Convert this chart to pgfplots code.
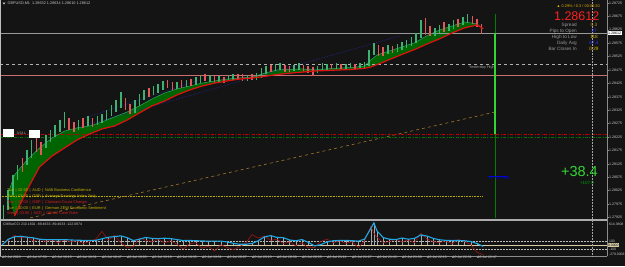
\documentclass[border=0pt]{standalone}
\usepackage{fontspec}
\setmainfont{Liberation Sans}
\usepackage{pgfplots}
\pgfplotsset{compat=1.18}
\usepackage{pgfplotstable}
\usepgfplotslibrary{fillbetween}
\newcommand{\fs}[1]{\fontsize{#1}{#1}\selectfont}
\definecolor{bg}{HTML}{141414}
\definecolor{fillg}{HTML}{006400}
\definecolor{fastc}{HTML}{2FA36B}
\definecolor{slowc}{HTML}{E01010}
\definecolor{upc}{HTML}{3CB371}
\definecolor{dnc}{HTML}{E05A5A}
\definecolor{salmonl}{HTML}{C87070}
\definecolor{pricel}{HTML}{9A9A9A}
\definecolor{axisg}{HTML}{8C8C8C}
\definecolor{lbl}{HTML}{C8C8C8}
\definecolor{infog}{HTML}{9A9A9A}
\definecolor{gold}{HTML}{D9B400}
\definecolor{oliveg}{HTML}{B89A00}
\definecolor{bluev}{HTML}{2A3CFF}
\definecolor{limeg}{HTML}{33D633}
\definecolor{newsy}{HTML}{C8B400}
\definecolor{newsr}{HTML}{D42020}
\definecolor{cciblue}{HTML}{1EA8E6}
\definecolor{ccired}{HTML}{A01414}
\definecolor{beige}{HTML}{D8CCA8}
\definecolor{orgd}{HTML}{A07828}
\definecolor{navyd}{HTML}{2828A0}
\definecolor{yeld}{HTML}{B8A800}
\definecolor{bigred}{HTML}{FF1E1E}
\pagecolor{bg}
% prices are stored as prices; they are plotted in points above 1.28000
\pgfplotsset{/pgfplots/table/pr/.style={y expr=(\thisrow{p}-1.28)*100000}}

\pgfplotstableread{
b p
4 1.28016
8 1.28083
16 1.28139
24 1.28184
32 1.28221
40 1.28247
48 1.28259
56 1.28266
64 1.28281
72 1.28300
80 1.28318
88 1.28341
96 1.28367
104 1.28389
112 1.28404
120 1.28415
128 1.28426
136 1.28434
144 1.28441
152 1.28445
160 1.28448
168 1.28463
176 1.28475
184 1.28477
192 1.28479
200 1.28475
208 1.28479
216 1.28482
224 1.28484
232 1.28490
236 1.28512
240 1.28531
248 1.28546
256 1.28561
264 1.28576
272 1.28603
280 1.28624
288 1.28639
296 1.28654
304 1.28647
308 1.28628
}\fastma

\pgfplotstableread{
b p
8 1.27930
16 1.28027
24 1.28113
32 1.28154
40 1.28184
48 1.28214
56 1.28236
64 1.28255
72 1.28266
80 1.28288
88 1.28315
96 1.28341
104 1.28359
112 1.28382
120 1.28400
128 1.28415
136 1.28426
144 1.28434
152 1.28441
160 1.28445
168 1.28451
176 1.28458
184 1.28463
192 1.28467
200 1.28471
208 1.28473
216 1.28475
224 1.28477
232 1.28481
236 1.28486
240 1.28495
248 1.28514
256 1.28533
264 1.28551
272 1.28572
280 1.28591
288 1.28613
296 1.28632
304 1.28643
308 1.28629
}\slowma

\pgfplotstableread{
b lo hi
1 1.27915 1.27971
4 1.27953 1.28027
7 1.28009 1.28083
10 1.28065 1.28121
16 1.28121 1.28176
19 1.28147 1.28214
28 1.28184 1.28232
31 1.28206 1.28251
34 1.28225 1.28270
37 1.28244 1.28288
40 1.28259 1.28318
49 1.28251 1.28288
55 1.28266 1.28303
61 1.28270 1.28303
64 1.28277 1.28311
67 1.28288 1.28326
70 1.28303 1.28344
73 1.28318 1.28363
76 1.28333 1.28393
85 1.28315 1.28363
88 1.28341 1.28385
91 1.28363 1.28400
97 1.28382 1.28415
100 1.28389 1.28423
103 1.28400 1.28434
112 1.28404 1.28430
118 1.28411 1.28438
124 1.28419 1.28449
127 1.28426 1.28453
133 1.28430 1.28456
139 1.28430 1.28453
145 1.28434 1.28456
148 1.28438 1.28460
157 1.28434 1.28456
163 1.28438 1.28464
166 1.28445 1.28482
169 1.28460 1.28490
175 1.28471 1.28497
178 1.28475 1.28501
187 1.28471 1.28494
190 1.28475 1.28501
202 1.28464 1.28490
205 1.28475 1.28501
208 1.28475 1.28497
214 1.28479 1.28501
220 1.28479 1.28497
223 1.28482 1.28501
229 1.28482 1.28501
232 1.28482 1.28505
235 1.28490 1.28549
238 1.28531 1.28576
247 1.28535 1.28568
253 1.28542 1.28572
256 1.28549 1.28579
259 1.28557 1.28587
262 1.28564 1.28598
265 1.28576 1.28613
268 1.28594 1.28661
277 1.28602 1.28632
280 1.28613 1.28643
286 1.28620 1.28646
289 1.28628 1.28661
295 1.28643 1.28673
298 1.28650 1.28684
}\candup

\pgfplotstableread{
b lo hi
13 1.28094 1.28147
22 1.28169 1.28221
25 1.28158 1.28206
43 1.28251 1.28296
46 1.28244 1.28281
52 1.28259 1.28296
58 1.28262 1.28296
79 1.28326 1.28370
82 1.28311 1.28348
94 1.28374 1.28408
106 1.28408 1.28438
109 1.28400 1.28430
115 1.28408 1.28438
121 1.28415 1.28441
130 1.28434 1.28460
136 1.28426 1.28453
142 1.28426 1.28449
151 1.28438 1.28460
154 1.28434 1.28460
160 1.28438 1.28460
172 1.28467 1.28494
181 1.28467 1.28494
184 1.28467 1.28490
193 1.28471 1.28494
196 1.28464 1.28490
199 1.28453 1.28486
211 1.28479 1.28497
217 1.28479 1.28497
226 1.28479 1.28497
241 1.28527 1.28568
244 1.28527 1.28561
250 1.28538 1.28564
271 1.28605 1.28669
274 1.28602 1.28639
283 1.28617 1.28654
292 1.28635 1.28665
301 1.28646 1.28676
304 1.28635 1.28665
307 1.28609 1.28646
}\canddn

\pgfplotstableread{
b blue red
0 0 20
4 150 120
8 210 250
12 225 180
16 200 220
20 185 100
24 150 160
28 140 90
32 140 140
36 135 60
40 140 130
44 130 80
48 125 110
52 120 40
56 118 90
60 120 150
64 160 350
68 200 130
72 215 250
76 235 60
80 190 -60
84 115 -40
88 150 180
92 195 120
96 170 90
100 165 150
104 175 60
108 165 110
112 140 20
116 115 -100
120 118 30
124 112 60
128 105 -80
132 100 -30
136 100 -150
140 100 10
144 80 -60
148 45 -120
152 20 -40
156 20 50
160 40 268
164 110 180
168 210 230
172 240 120
176 195 150
180 190 40
184 130 80
188 110 -20
192 140 60
196 70 -70
200 -20 -60
204 10 90
208 80 150
212 110 60
216 118 110
220 120 40
224 112 90
228 100 -62
232 150 100
236 420 480
238 565 300
240 360 200
244 190 60
248 150 90
252 140 150
256 180 80
260 150 130
264 170 60
268 260 300
272 230 160
276 170 90
280 135 60
284 120 110
288 115 30
292 118 140
296 110 90
300 90 10
304 40 -186
308 -35 -245
}\cci

\begin{document}
\begin{tikzpicture}
% ---------------- main window ----------------
\begin{axis}[
  at={(0pt,47pt)}, anchor=south west, scale only axis,
  width=607pt, height=219pt,
  xmin=-1.28, xmax=387.2, ymin=-81, ymax=736,
  axis x line*=bottom, axis y line*=right,
  axis line style={-, axisg, line width=0.6pt},
  xtick=\empty,
  ytick={-75,-25,25,75,125,175,225,275,325,375,425,475,525,575,625,675,725},
  yticklabels={1.27925,1.27975,1.28025,1.28075,1.28125,1.28175,1.28225,1.28275,1.28325,1.28375,1.28425,1.28475,1.28525,1.28575,1.28625,1.28675,1.28725},
  tick align=outside, major tick length=1.5pt,
  tick style={axisg, line width=0.4pt},
  yticklabel style={font={\fs{3.6}}, text=lbl, anchor=west, inner sep=0.4pt},
  /pgf/number format/assume math mode=true,
]
% level lines
\addplot[yeld, densely dotted, line width=0.6pt] table[row sep=\\, x=x, pr] {x p\\ -1.28 1.28005\\ 307 1.28005\\};
\addplot[orgd, dashed, line width=0.6pt] table[row sep=\\, x=x, pr] {x p\\ 17.9 1.27923\\ 315.5 1.28318\\};
\addplot[navyd, densely dotted, line width=0.6pt] table[row sep=\\, x=x, pr] {x p\\ 56.3 1.28274\\ 254.7 1.28602\\};
\addplot[navyd, densely dotted, line width=0.6pt] table[row sep=\\, x=x, pr] {x p\\ 53.1 1.28296\\ 126.7 1.28438\\};
\addplot[red!75!black, line width=0.6pt, dash pattern=on 3pt off 1.5pt on 0.8pt off 1.5pt] table[row sep=\\, x=x, pr] {x p\\ -1.28 1.28236\\ 387.2 1.28236\\};
\addplot[green!45!black, line width=0.6pt, dash pattern=on 3pt off 1.5pt on 0.8pt off 1.5pt] table[row sep=\\, x=x, pr] {x p\\ -1.28 1.28225\\ 387.2 1.28225\\};
\addplot[gray!60, dashed, line width=0.6pt] table[row sep=\\, x=x, pr] {x p\\ -1.28 1.28497\\ 387.2 1.28497\\};
\addplot[salmonl, line width=0.8pt] table[row sep=\\, x=x, pr] {x p\\ -1.28 1.28456\\ 387.2 1.28456\\};
\addplot[pricel, line width=0.7pt] table[row sep=\\, x=x, pr] {x p\\ -1.28 1.28612\\ 387.2 1.28612\\};
% MA ribbon
\addplot[draw=none, name path=fastp] table[x=b, pr] {\fastma};
\addplot[draw=none, name path=slowp] table[x=b, pr] {\slowma};
\addplot[fill=fillg, draw=none] fill between[of=fastp and slowp];
\addplot[fastc, line width=0.5pt] table[x=b, pr] {\fastma};
% candles
\addplot[upc, only marks, mark=*, mark size=0.1pt, mark options={opacity=0},
  error bars/.cd, y dir=minus, y explicit, error mark=none,
  error bar style={line width=1.6pt, draw=upc}]
  table[x=b, y expr=(\thisrow{hi}-1.28)*100000, y error minus expr=(\thisrow{hi}-\thisrow{lo})*100000] {\candup};
\addplot[dnc, only marks, mark=*, mark size=0.1pt, mark options={opacity=0},
  error bars/.cd, y dir=minus, y explicit, error mark=none,
  error bar style={line width=1.6pt, draw=dnc}]
  table[x=b, y expr=(\thisrow{hi}-1.28)*100000, y error minus expr=(\thisrow{hi}-\thisrow{lo})*100000] {\canddn};
\addplot[slowc, line width=1.2pt] table[x=b, pr] {\slowma};
% distance to open
\addplot[green!50!black, line width=0.6pt] table[row sep=\\, x=x, pr] {x p\\ 315.5 1.27923\\ 315.5 1.28684\\};
\addplot[limeg, line width=1.8pt] table[row sep=\\, x=x, pr] {x p\\ 315.5 1.28236\\ 315.5 1.28612\\};
\end{axis}

% ---------------- sub window ----------------
\begin{axis}[
  at={(0pt,10pt)}, anchor=south west, scale only axis,
  width=607pt, height=35pt,
  xmin=-1.28, xmax=387.2, ymin=-279.0008, ymax=614.3808,
  axis x line*=bottom, axis y line*=right,
  axis line style={-, axisg, line width=0.6pt},
  ytick=\empty,
  xtick={0,16,32,48,64,80,96,112,128,144,160,176,192,208,224,240,256,272,288,304},
  xticklabels={10 Jul 2023,10 Jul 17:59,10 Jul 18:15,10 Jul 18:31,10 Jul 18:47,10 Jul 19:03,10 Jul 19:19,10 Jul 19:35,10 Jul 19:51,10 Jul 20:07,10 Jul 20:23,10 Jul 20:39,10 Jul 20:55,10 Jul 21:11,10 Jul 21:27,10 Jul 21:43,10 Jul 21:59,10 Jul 22:15,10 Jul 22:31,10 Jul 22:47},
  tick align=outside, major tick length=1.5pt,
  tick style={axisg, line width=0.4pt},
  xticklabel style={font={\fs{3.5}}, text=lbl, anchor=north west, inner sep=0.3pt, xshift=0.3pt, yshift=2pt},
  /pgf/number format/assume math mode=true,
]
\addplot[gray!55, densely dotted, line width=0.5pt] coordinates {(-1.28,100) (387.2,100)};
\addplot[gray!55, densely dotted, line width=0.5pt] coordinates {(-1.28,-100) (387.2,-100)};
\addplot[gray!70, ycomb, line width=0.4pt] table[x=b, y=blue] {\cci};
\addplot[beige, line width=0.8pt] coordinates {(-1.28,0) (387.2,0)};
\addplot[ccired, line width=0.6pt] table[x=b, y=red] {\cci};
\addplot[cciblue, line width=1.1pt] table[x=b, y=blue] {\cci};
\end{axis}

\begin{scope}[x=1pt,y=1pt]
% frames and separators
\fill[gray!65] (0,45.2) rectangle (607,47.2);
\draw[axisg, line width=0.6pt] (607,10) -- (607,266);
\draw[gray!50, line width=0.5pt] (0.4,10) -- (0.4,266);
\draw[gray!70, densely dotted, line width=0.5pt] (592,10) -- (592,266);

% top-left caption
\fill[lbl] (2.5,263.5) -- (5.5,263.5) -- (4,261.5) -- cycle;
\node[anchor=west, font={\fs{3.8}}, text=lbl, inner sep=0] at (7.5,262.3) {GBPUSD,M1 \ 1.28632 1.28634 1.28610 1.28612};

% right info panel
\node[anchor=east, font={\fs{3.9}}, text=gold!85!orange, inner sep=0] at (600,260) {▲ 0.29\% / 0.3 / 00:00:20};
\node[anchor=east, font={\fs{12.5}}, text=bigred, inner sep=0] at (599.5,250) {1.28612};
\node[anchor=east, font={\fs{4.7}}, text=infog, inner sep=0] at (577,241) {Spread};
\node[anchor=east, font={\fs{4.7}}, text=infog, inner sep=0] at (577,235) {Pips to Open};
\node[anchor=east, font={\fs{4.7}}, text=infog, inner sep=0] at (577,229) {High to Low};
\node[anchor=east, font={\fs{4.7}}, text=infog, inner sep=0] at (577,223) {Daily Avg};
\node[anchor=east, font={\fs{4.7}}, text=infog, inner sep=0] at (577,217) {Bar Closes In};
\node[font={\fs{4.7}}, text=oliveg, inner sep=0] at (594,241) {0.3};
\node[font={\fs{4.7}}, text=bluev, inner sep=0] at (594,235) {37};
\node[font={\fs{4.7}}, text=gold, inner sep=0] at (594,229) {118};
\node[font={\fs{4.7}}, text=bluev, inner sep=0] at (594,223) {67.4};
\node[font={\fs{4.7}}, text=gold, inner sep=0] at (594,217) {0:29};
\node[font={\fs{3.8}}, text=gray!75, inner sep=0] at (482,198) {Yesterday High};
\node[anchor=east, font={\fs{14.5}}, text=limeg, inner sep=0] at (598,94) {+38.4};
\node[font={\fs{4.5}}, text=green!65!black, inner sep=0] at (587,83) {+107.0};
\node[font={\fs{3.6}}, text=blue!85!black, inner sep=0] at (499,87.5) {TP: 38.1 Max};
\draw[blue!85!black, line width=0.7pt] (488,89.6) -- (508,89.6);

% price box on axis
\node[anchor=west, fill=white, text=black, font={\fs{3.6}}, inner sep=0.5pt] at (607.5,233) {1.28612};

% left marker boxes
\fill[white] (3,129) rectangle (14,137);
\fill[white] (29,128) rectangle (40,136);
\node[font={\fs{3.4}}, text=gray!60, inner sep=0] at (21.5,132.5) {0.53.L};

% news
\node[anchor=west, font={\fs{3.9}}, text=newsy, inner sep=0] at (7,76) {Tue \,|\, 02:30 \,|\, AUD \,|\, NAB Business Confidence};
\node[anchor=west, font={\fs{3.9}}, text=newsy, inner sep=0] at (7,70) {Tue \,|\, 07:00 \,|\, GBP \,|\, Average Earnings Index 3m/y};
\node[anchor=west, font={\fs{3.9}}, text=newsr, inner sep=0] at (7,64) {Tue \,|\, 07:00 \,|\, GBP \,|\, Claimant Count Change};
\node[anchor=west, font={\fs{3.9}}, text=newsy, inner sep=0] at (7,58) {Tue \,|\, 10:00 \,|\, EUR \,|\, German ZEW Economic Sentiment};
\node[anchor=west, font={\fs{3.9}}, text=newsr, inner sep=0] at (7,52.5) {Wed \,|\, 03:00 \,|\, NZD \,|\, Official Cash Rate};

% sub window captions
\node[anchor=west, font={\fs{3.5}}, text=lbl, inner sep=0] at (3,42) {CMBarCCI 210.1601 -89.4633 -89.4633 -122.0974};
\node[anchor=west, font={\fs{3.4}}, text=lbl, inner sep=0] at (609,42) {614.3808};
\node[anchor=west, font={\fs{3.4}}, text=lbl, inner sep=0] at (609,25) {100};
\node[anchor=west, fill=beige, text=black, font={\fs{3.4}}, inner sep=0.4pt] at (607.5,21) {0.0000};
\node[anchor=west, font={\fs{3.4}}, text=lbl, inner sep=0] at (609,17) {-100};
\node[anchor=west, font={\fs{3.4}}, text=lbl, inner sep=0] at (609,12) {-279.0008};
\end{scope}

\pgfresetboundingbox
\path[use as bounding box] (0pt,0pt) rectangle (625pt,266pt);
\end{tikzpicture}
\end{document}
